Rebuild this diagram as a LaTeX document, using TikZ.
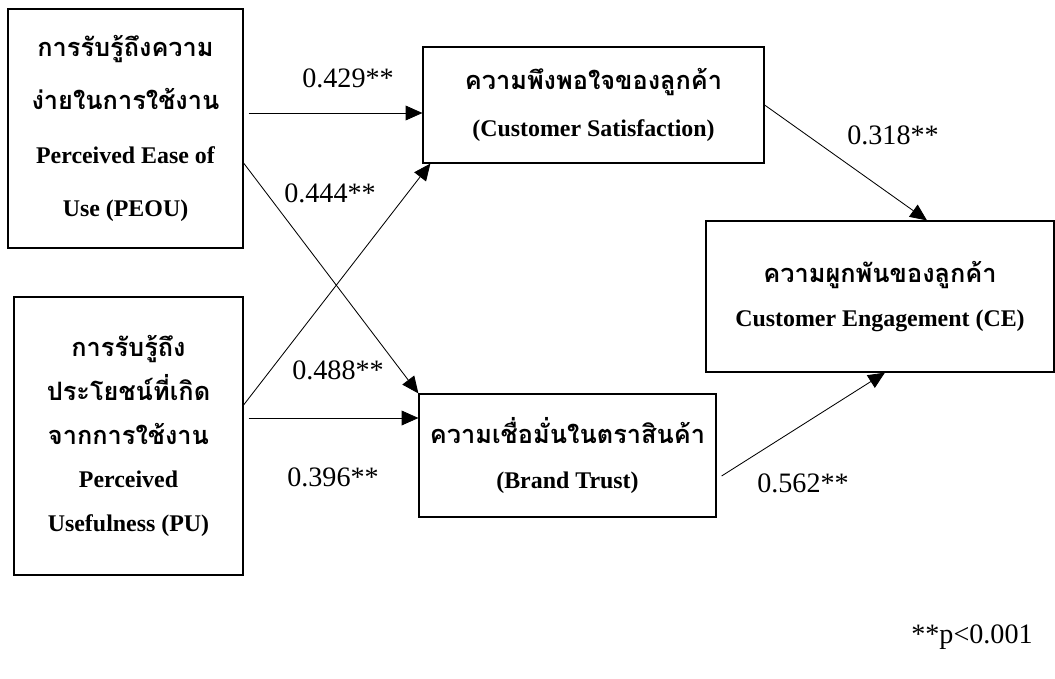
\documentclass[tikz,border=0pt]{standalone}
\usepackage{fontspec}
\setmainfont{Liberation Serif}
\newfontfamily\thaifont[Script=Thai,Scale=1.06]{Loma}
\usepackage{tikz}
\usetikzlibrary{arrows.meta,positioning}
\tikzset{
  sem/.style={x=0.025cm, y=-0.025cm, >={Triangle[length=0.42cm,width=0.37cm]}},
  var/.style={draw, line width=0.8pt, inner sep=0pt, align=center},
  effect/.style={->, line width=0.6pt},
  coef/.style={font=\fontsize{20}{24}\selectfont, inner sep=0pt}
}
\newcommand{\thtxt}[1]{{\thaifont #1}}

\begin{document}
\begin{tikzpicture}[sem]
\useasboundingbox (0,0) rectangle (1055,679);
\node[var, minimum width=5.875cm, minimum height=5.975cm, font=\fontsize{17}{38}\selectfont\bfseries] (peou) at (125.5,128.5)
  {\thtxt{การรับรู้ถึงความ}\\ \thtxt{ง่ายในการใช้งาน}\\ Perceived Ease of\\ Use (PEOU)};
\node[var, minimum width=5.725cm, minimum height=6.95cm, font=\fontsize{17}{31}\selectfont\bfseries] (pu) at (128.5,436)
  {\thtxt{การรับรู้ถึง}\\ \thtxt{ประโยชน์ที่เกิด}\\ \thtxt{จากการใช้งาน}\\ Perceived\\ Usefulness (PU)};
\node[var, minimum width=8.525cm, minimum height=2.9cm, font=\fontsize{17}{34}\selectfont\bfseries] (cs) at (593.5,105)
  {\thtxt{ความพึงพอใจของลูกค้า}\\ (Customer Satisfaction)};
\node[var, minimum width=7.425cm, minimum height=3.075cm, font=\fontsize{17}{32}\selectfont\bfseries] (bt) at (567.5,455.5)
  {\thtxt{ความเชื่อมั่นในตราสินค้า}\\ (Brand Trust)};
\node[var, minimum width=8.7cm, minimum height=3.775cm, font=\fontsize{17}{31}\selectfont\bfseries] (ce) at (880,296.5)
  {\thtxt{ความผูกพันของลูกค้า}\\ Customer Engagement (CE)};
% paths
\draw[effect] ([shift={(5,-15.5)}]peou.east) -- ([shift={(0,8)}]cs.west);
\draw[effect] ([shift={(0,34.5)}]peou.east) -- (bt.north west);
\draw[effect] ([shift={(0,-31)}]pu.east) -- ([shift={(8,0)}]cs.south west);
\draw[effect] ([shift={(5,-18)}]pu.east) -- ([shift={(0,-37.5)}]bt.west);
\draw[effect] (cs.east) -- ([shift={(47,0)}]ce.north);
\draw[effect] ([shift={(5,20.5)}]bt.east) -- ([shift={(5,0)}]ce.south);
% coefficients
\node[coef] (c429) at (348,78) {0.429**};
\node[coef] (c444) at (330,193) {0.444**};
\node[coef] (c488) at (338,370) {0.488**};
\node[coef] (c396) at (333,477) {0.396**};
\node[coef] (c318) at (893,135) {0.318**};
\node[coef] (c562) at (803,483) {0.562**};
\node[coef] (sig) at (972,637) {**p<0.001};
\end{tikzpicture}
\end{document}
